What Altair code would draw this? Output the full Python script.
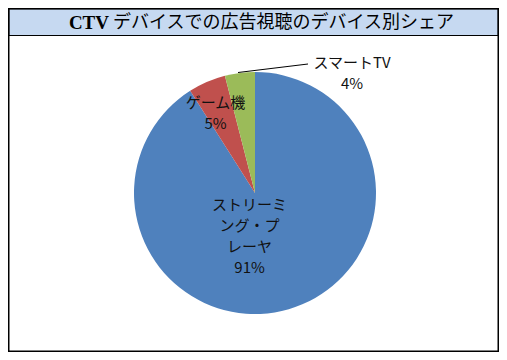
import altair as alt
import pandas as pd

# ---- data ----
categories = ["ストリーミング・プレーヤ", "ゲーム機", "スマートTV"]
shares = [91, 5, 4]
label_texts = ["ストリーミ\nング・プ\nレーヤ\n91%", "ゲーム機\n5%", "スマートTV\n4%"]
colors = ["#4f81bd", "#c0504d", "#9bbb59"]
title_main = ["CTV"]
title_rest = ["デバイスでの広告視聴のデバイス別シェア"]

df = pd.DataFrame({
    "category": categories,
    "share": shares,
    "label": label_texts,
    "order": list(range(len(categories))),
})

W, H = 491, 344
CX, CY, R = 247, 185, 121
JP = "Noto Sans CJK JP"
LH = 21

theta_scale = alt.Scale(domain=[0, 100])
color_scale = alt.Scale(domain=categories, range=colors)

base = alt.Chart(df)

band = alt.Chart(pd.DataFrame({"t": title_rest})).mark_rect(
    fill="#c6d9f1", stroke="#000000", strokeWidth=1.2
).encode(x=alt.value(0.75), x2=alt.value(W - 0.75), y=alt.value(0.75), y2=alt.value(27.5))

t1 = alt.Chart(pd.DataFrame({"t": title_main})).mark_text(
    font="Liberation Serif", fontWeight="bold", fontSize=19, align="right", baseline="middle", color="#000000"
).encode(text="t:N", x=alt.value(101), y=alt.value(15))

t2 = alt.Chart(pd.DataFrame({"t": title_rest})).mark_text(
    font=JP, fontSize=18, align="left", baseline="middle", color="#000000"
).encode(text="t:N", x=alt.value(105), y=alt.value(14.5))

pie = base.mark_arc(outerRadius=R).encode(
    theta=alt.Theta("share:Q", stack=True, scale=theta_scale),
    color=alt.Color("category:N", scale=color_scale, legend=None),
    order=alt.Order("order:Q"),
    x=alt.value(CX),
    y=alt.value(CY),
)


def label_layer(cat, radius, dx, dy):
    return base.transform_window(
        cum="sum(share)", sort=[alt.SortField("order")]
    ).transform_calculate(
        mid="datum.cum - datum.share / 2"
    ).transform_filter(
        alt.datum.category == cat
    ).mark_text(
        radius=radius, dx=dx, dy=dy, lineBreak="\n", lineHeight=LH,
        font=JP, fontSize=15, color="#111111", align="center", baseline="middle"
    ).encode(
        theta=alt.Theta("mid:Q", scale=theta_scale, stack=None),
        text="label:N",
        x=alt.value(CX),
        y=alt.value(CY),
    )


lab_blue = label_layer(categories[0], 45, -18, -1.5 * LH)
lab_red = label_layer(categories[1], 87, -5, -0.5 * LH)
lab_green = label_layer(categories[2], 128, 113, 7 - 0.5 * LH)

leader = base.transform_filter(alt.datum.category == categories[2]).mark_rule(
    color="#000000", strokeWidth=1
).encode(x=alt.value(230), x2=alt.value(300), y=alt.value(64.5), y2=alt.value(56))

frame = alt.Chart(pd.DataFrame({"t": title_rest})).mark_rect(
    fill=None, stroke="#000000", strokeWidth=1.5
).encode(x=alt.value(0.75), x2=alt.value(W - 0.75), y=alt.value(0.75), y2=alt.value(H - 0.75))

chart = alt.layer(
    band, pie, lab_blue, lab_red, lab_green, leader, t1, t2, frame
).properties(
    width=W, height=H, padding=0,
    autosize=alt.AutoSizeParams(type="none"),
).configure_view(strokeWidth=0)

chart.save("out.html", embed_options={"renderer": "svg", "actions": False})
